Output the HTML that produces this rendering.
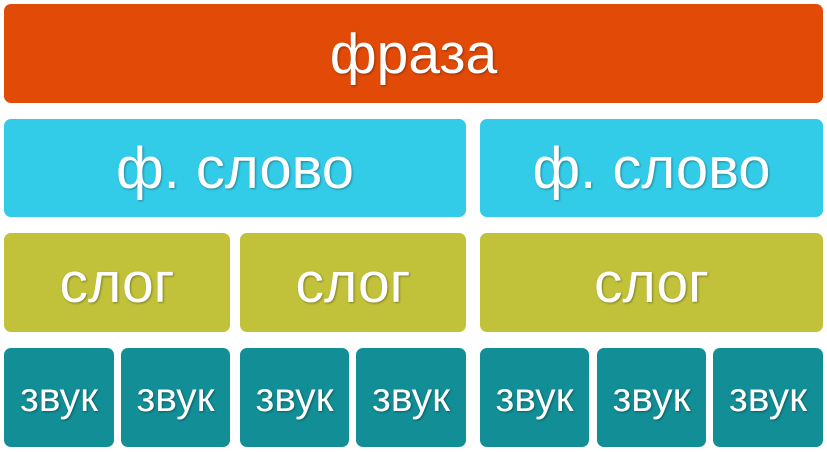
<!DOCTYPE html>
<html><head><meta charset="utf-8"><style>
body{margin:0;width:827px;height:452px;background:#fff;position:relative;overflow:hidden;font-family:"Liberation Sans","DejaVu Sans",sans-serif}
.b{position:absolute;border-radius:7px;color:#fff;display:flex;align-items:center;justify-content:center;text-shadow:1px 1px 2px rgba(0,0,0,.35)}
.o{background:#E24A07;font-size:57px}
.c{background:#33CCE8;font-size:58px}
.g{background:#C2C23A;font-size:57px}
.t{background:#128E96;font-size:41px}
</style></head><body>
<div class="b o" style="left:4px;top:4px;width:819px;height:99px">фраза</div>
<div class="b c" style="left:4px;top:119px;width:462px;height:98px">ф. слово</div>
<div class="b c" style="left:480px;top:119px;width:343px;height:98px">ф. слово</div>
<div class="b g" style="left:4px;top:233px;width:226px;height:99px">слог</div>
<div class="b g" style="left:240px;top:233px;width:226px;height:99px">слог</div>
<div class="b g" style="left:480px;top:233px;width:343px;height:99px">слог</div>
<div class="b t" style="left:4px;top:348px;width:110px;height:99px">звук</div>
<div class="b t" style="left:121px;top:348px;width:109px;height:99px">звук</div>
<div class="b t" style="left:240px;top:348px;width:109px;height:99px">звук</div>
<div class="b t" style="left:356px;top:348px;width:110px;height:99px">звук</div>
<div class="b t" style="left:480px;top:348px;width:109px;height:99px">звук</div>
<div class="b t" style="left:597px;top:348px;width:109px;height:99px">звук</div>
<div class="b t" style="left:713px;top:348px;width:110px;height:99px">звук</div>
</body></html>
